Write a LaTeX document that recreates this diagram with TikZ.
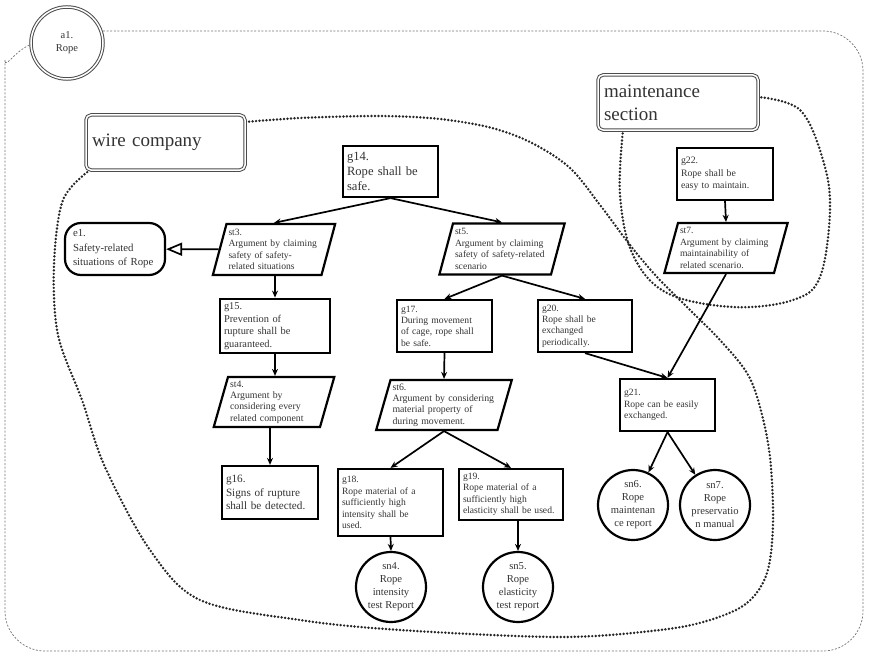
\documentclass[tikz,border=0pt]{standalone}
\usepackage{fontspec}
\setmainfont{Liberation Serif}
\usetikzlibrary{shapes.geometric,arrows.meta}
\definecolor{txt}{gray}{0.2}
\newcommand{\fs}[2]{\fontsize{#1}{#2}\selectfont}
\hyphenpenalty=10000
\exhyphenpenalty=10000
\begin{document}
\begin{tikzpicture}[x=1pt,y=-1pt,
  goal/.style={draw, line width=2.2pt, rectangle, inner sep=4pt, align=left, text=txt,
    font=\fs{9.6}{11.4}},
  strat/.style={draw, line width=2.2pt, trapezium, trapezium left angle=73,
    trapezium right angle=107, trapezium stretches body=true, inner sep=2pt,
    align=left, text=txt, font=\fs{9.6}{11.4}},
  soln/.style={draw, line width=2.2pt, circle, minimum size=70pt, inner sep=0pt,
    align=center, text=txt, font=\fs{10.6}{13}},
  ctx/.style={draw, line width=2.2pt, rectangle, rounded corners=16pt, inner xsep=8pt,
    inner ysep=4pt, align=left, text=txt, font=\fs{10.8}{14.5}},
  tag/.style={draw=black!70, double=white, double distance=1.5pt, line width=1pt,
    rounded corners=5pt, fill=white, align=left, text=txt, inner sep=6pt,
    font=\fs{19}{23}},
  arr/.style={line width=1.7pt, -{Stealth[length=7pt, width=6pt]}},
  region/.style={line width=2.7pt, dash pattern=on 0pt off 3.5pt, line cap=round, black!85},
  outer/.style={line width=0.7pt, black!55, dash pattern=on 2pt off 1.6pt}]
\useasboundingbox (0,0) rectangle (869,658);

% outer boundary of the whole argument
\draw[outer, rounded corners=40pt] (103,31) -- (863,31) -- (863,651) -- (5,651) -- (5,100)
  .. controls (5,70) and (15,50) .. (32,44);

% region of the wire company
\draw[region] plot[smooth, tension=0.55] coordinates {
  (90,170) (63,200) (54,265) (58,335) (82,400) (105,467) (150,550) (200,600)
  (300,620) (400,630) (560,637) (660,630) (710,620) (747,603) (767,573)
  (773,523) (770,457) (760,407) (747,373) (720,340) (690,310) (657,277)
  (630,245) (600,205) (570,168) (532,143) (492,128) (440,119) (380,116)
  (300,118) (245,122)};

% region of the maintenance section
\draw[region] plot[smooth, tension=0.6] coordinates {
  (623,130) (620,195) (633,255) (667,293) (733,307) (793,300) (820,277)
  (830,210) (823,160) (800,110) (758,97)};

% module and owners
\node[draw=black!70, double=white, double distance=1.5pt, line width=1pt, circle,
  minimum size=72pt, inner sep=0pt, fill=white, align=center, text=txt,
  font=\fs{10.5}{13}] (a1) at (67,43) {a1.\\Rope};
\node[tag, text width=147pt, minimum height=55pt] (wire) at (165.5,142.5) {wire company};
\node[tag, text width=148pt, minimum height=55pt] (maint) at (678,102.5) {maintenance\\section};

% goals
\node[goal, text width=87pt, minimum height=51pt, font=\fs{12.6}{14.6}] (g14) at (390.5,171.5)
  {g14.\\Rope shall be\\safe.};
\node[goal, text width=102pt, minimum height=52pt, font=\fs{10.4}{12.5}] (g15) at (275,326)
  {g15.\\Prevention of\\rupture shall be\\guaranteed.};
\node[goal, text width=88pt, minimum height=53pt, font=\fs{11.2}{13.3}] (g16) at (270,492.5)
  {g16.\\Signs of rupture\\shall be detected.};
\node[goal, text width=87pt, minimum height=52pt] (g17) at (444.5,326)
  {g17.\\During movement\\of cage, rope shall\\be safe.};
\node[goal, text width=86pt, minimum height=52pt] (g20) at (585,326)
  {g20.\\Rope shall be\\exchanged\\periodically.};
\node[goal, text width=97pt, minimum height=67pt] (g18) at (390.5,502.5)
  {g18.\\Rope material of a\\sufficiently high\\intensity shall be\\used.};
\node[goal, text width=96pt, minimum height=51pt] (g19) at (511,494.5)
  {g19.\\Rope material of a\\sufficiently high\\elasticity shall be used.};
\node[goal, text width=87pt, minimum height=52pt] (g21) at (667.5,405)
  {g21.\\Rope can be easily\\exchanged.};
\node[goal, text width=88pt, minimum height=52pt, font=\fs{9.8}{12.2}] (g22) at (725,174)
  {g22.\\Rope shall be\\easy to maintain.};

% strategies
\node[strat, text width=91pt, minimum height=51pt] (st3) at (274,249.5)
  {st3.\\Argument by claiming\\safety of safety-\\related situations};
\node[strat, text width=94pt, minimum height=51pt] (st5) at (502,249)
  {st5.\\Argument by claiming\\safety of safety-related\\scenario};
\node[strat, text width=88pt, minimum height=50pt, font=\fs{9.8}{11.4}] (st4) at (274,402)
  {st4.\\Argument by\\considering every\\related component};
\node[strat, text width=103pt, minimum height=50pt, font=\fs{9.8}{11.4}] (st6) at (444,405)
  {st6.\\Argument by considering\\material property of\\during movement.};
\node[strat, text width=92pt, minimum height=50pt] (st7) at (726,248)
  {st7.\\Argument by claiming\\maintainability of\\related scenario.};

% context
\node[ctx, text width=84pt, minimum height=52pt] (e1) at (115,249)
  {e1.\\Safety-related\\situations of Rope};

% solutions
\node[soln] (sn4) at (391,587) {sn4.\\Rope\\intensity\\test Report};
\node[soln] (sn5) at (518,587) {sn5.\\Rope\\elasticity\\test report};
\node[soln] (sn6) at (633,505) {sn6.\\Rope\\maintenan\\ce report};
\node[soln] (sn7) at (715,505) {sn7.\\Rope\\preservatio\\n manual};

% connectors
\draw[arr] (g14.south) -- (st3.north);
\draw[arr] (g14.south) -- (st5.north);
\draw[line width=1.7pt, -{Triangle[open, length=16pt, width=13pt]}] (st3) -- (e1);
\draw[arr] (g15.north |- st3.south) -- (g15.north);
\draw[arr] (g15.south) -- (g15.south |- st4.north);
\draw[arr] (g16.north |- st4.south) -- (g16.north);
\draw[arr] (st5.south) -- (g17.north);
\draw[arr] (st5.south) -- (g20.north);
\draw[arr] (g17.south) -- (st6.north);
\draw[arr] (st6.south) -- (g18.north);
\draw[arr] (st6.south) -- (g19.north);
\draw[arr] (g18.south) -- (sn4.north);
\draw[arr] (sn5.north |- g19.south) -- (sn5.north);
\draw[arr] (g20.south) -- (g21.north);
\draw[arr] (g22.south) -- (st7.north);
\draw[arr] (st7.south) -- (g21.north);
\draw[arr] (g21.south) -- (sn6);
\draw[arr] (g21.south) -- (sn7);
\end{tikzpicture}
\end{document}
